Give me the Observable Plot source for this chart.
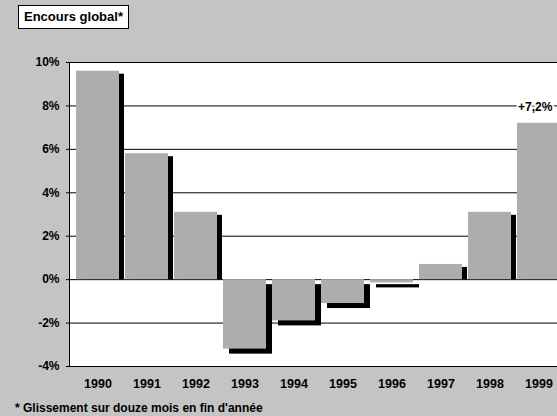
<!DOCTYPE html>
<html>
<head>
<meta charset="utf-8">
<script src="https://cdn.jsdelivr.net/npm/d3@7"></script>
<script src="https://cdn.jsdelivr.net/npm/@observablehq/plot@0.6"></script>
<style>
  html, body { margin: 0; padding: 0; width: 557px; height: 416px; overflow: hidden; background: #c4c4c4; }
  body { position: relative; font-family: "Liberation Sans", Arial, sans-serif; }
  #title { position: absolute; left: 18px; top: 5px; height: 22px; line-height: 22px; padding: 0 5px; background: #fff; border: 1px solid #000; font-weight: bold; font-size: 13px; color: #000; }
  #note { position: absolute; left: 15px; top: 401px; font-weight: bold; font-size: 12px; line-height: 14px; color: #000; white-space: nowrap; }
  svg { display: block; }
</style>
</head>
<body>
<div id="chart"></div>
<div id="title">Encours global*</div>
<div id="note">* Glissement sur douze mois en fin d'année</div>
<script>
const years = ["1990","1991","1992","1993","1994","1995","1996","1997","1998","1999"];
const values = [9.6, 5.8, 3.1, -3.2, -1.9, -1.1, -0.15, 0.7, 3.1, 7.2];
const yTicks = [-4, -2, 0, 2, 4, 6, 8, 10];
const gridValues = [8, 6, 4, 2, -2];
const lastLabel = "+7,2%";

const data = years.map((year, i) => ({year, value: values[i]}));
const pos = data.filter(d => d.value >= 0);
const neg = data.filter(d => d.value < 0);
const last = [data[data.length - 1]];

const chart = Plot.plot({
  width: 557,
  height: 416,
  marginLeft: 69,
  marginTop: 62,
  marginBottom: 50,
  marginRight: 0,
  style: {background: "#c4c4c4", fontFamily: "'Liberation Sans', Arial, sans-serif", fontWeight: "bold", color: "#000", overflow: "hidden"},
  x: {domain: years, range: [69, 567], paddingInner: 0.12, paddingOuter: 0.06, axis: null, label: null},
  y: {domain: [-4, 10], ticks: yTicks, axis: null, label: null},
  marks: [
    Plot.frame({fill: "white", stroke: null}),
    Plot.ruleY(gridValues, {stroke: "#000", strokeWidth: 1}),
    Plot.ruleY([0], {stroke: "#000", strokeWidth: 1}),
    Plot.rectY(pos, {x: "year", y: "value", fill: "#000", dx: 5, dy: 3, insetBottom: 3}),
    Plot.rectY(neg, {x: "year", y: "value", fill: "#000", dx: 6, dy: 5}),
    Plot.rectY(data, {x: "year", y: "value", fill: "#adadad"}),
    Plot.frame({stroke: "#000", strokeWidth: 1}),
    Plot.axisY(yTicks, {tickSize: 3, tickPadding: 7, fontSize: 12, label: null, tickFormat: d => `${d}%`}),
    Plot.axisX(years, {tickSize: 0, tickPadding: 13, fontSize: 12.5, label: null}),
    Plot.text(last, {x: "year", y: "value", text: () => lastLabel, textAnchor: "start", dx: -21, dy: -16, fontSize: 12, fill: "#000", stroke: "white", strokeWidth: 4, paintOrder: "stroke"})
  ]
});
document.getElementById("chart").appendChild(chart);
</script>
</body>
</html>
